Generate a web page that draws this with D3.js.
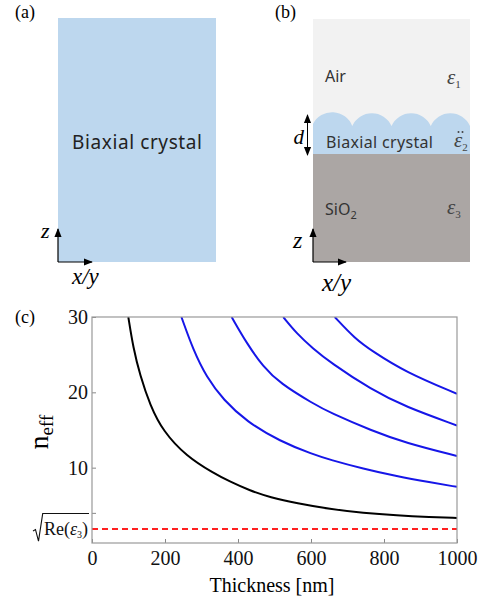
<!DOCTYPE html>
<html>
<head>
<meta charset="utf-8">
<script src="https://cdn.jsdelivr.net/npm/d3@7"></script>
<style>
  body { margin: 0; background: #fff; }
  svg { display: block; }
</style>
</head>
<body>
<svg id="fig" width="485" height="604"></svg>
<script>
// ---- data ----
var xTickValues = [0, 200, 400, 600, 800, 1000];
var yTickValues = [4, 10, 20, 30];
var yTickLabels = ["", "10", "20", "30"];
var substrateLine = 1.85; // sqrt(Re(eps3))

// [thickness nm, n_eff]
var mode0 = [[99.5, 30], [113, 25.9], [131.5, 22.3], [159, 18.3], [195, 14.8], [259, 11.5], [332, 9.3],
  [378, 8.14], [433, 6.95], [488, 6.07], [561, 5.27], [652, 4.5], [743, 4.0], [835, 3.67], [926, 3.45], [1000, 3.32]];
var mode1 = [[245, 30], [277.5, 25.6], [314, 22.0], [360, 19.0], [424, 16.1], [515, 13.5], [606, 11.75],
  [652, 11.05], [743, 9.85], [835, 8.85], [926, 8.05], [1000, 7.45]];
var mode2 = [[382.6, 30], [424, 26.5], [469, 23.4], [515, 21.2], [606, 18.5], [652, 17.3], [767, 14.9],
  [858, 13.3], [1000, 11.55]];
var mode3 = [[524, 30], [561, 27.8], [606, 25.8], [652, 24.0], [767, 20.3], [858, 18.1], [1000, 15.6]];
var mode4 = [[665, 30], [721, 27.1], [767, 25.5], [858, 22.7], [1000, 19.8]];

var blueModes = [mode1, mode2, mode3, mode4];

var svg = d3.select("#fig");
var serif = "'Liberation Serif', 'Times New Roman', serif";
var sans = "'Noto Sans', 'Open Sans', sans-serif";

var defs = svg.append("defs");
defs.append("marker")
  .attr("id", "head")
  .attr("viewBox", "0 0 10 10")
  .attr("refX", 9).attr("refY", 5)
  .attr("markerWidth", 9).attr("markerHeight", 9)
  .attr("markerUnits", "userSpaceOnUse")
  .attr("orient", "auto-start-reverse")
  .append("path")
  .attr("d", "M0,1 L10,5 L0,9 Z")
  .attr("fill", "#000");

// panel labels
[["(a)", 15, 18], ["(b)", 275, 18], ["(c)", 15, 323]].forEach(function (l) {
  svg.append("text").attr("x", l[1]).attr("y", l[2])
    .style("font-family", serif).style("font-size", "18px").text(l[0]);
});

function axesArrows(x0, y0, up, right) {
  svg.append("line").attr("x1", x0).attr("y1", y0).attr("x2", x0).attr("y2", y0 - up)
    .attr("stroke", "#000").attr("stroke-width", 1.2).attr("marker-end", "url(#head)");
  svg.append("line").attr("x1", x0).attr("y1", y0).attr("x2", x0 + right).attr("y2", y0)
    .attr("stroke", "#000").attr("stroke-width", 1.2).attr("marker-end", "url(#head)");
}

// ---- panel (a) ----
svg.append("rect").attr("x", 58).attr("y", 18).attr("width", 158).attr("height", 244).attr("fill", "#bdd7ee");
svg.append("text").attr("x", 72).attr("y", 149).attr("textLength", 130)
  .style("font-family", sans).style("font-size", "19px").style("fill", "#222").text("Biaxial crystal");
axesArrows(58, 262, 33, 34);
svg.append("text").attr("x", 41).attr("y", 238)
  .style("font-family", serif).style("font-style", "italic").style("font-size", "22px").text("z");
svg.append("text").attr("x", 72).attr("y", 284)
  .style("font-family", serif).style("font-style", "italic").style("font-size", "23px").text("x/y");

// ---- panel (b) ----
var bx = 313, bw = 157;
svg.append("rect").attr("x", bx).attr("y", 19).attr("width", bw).attr("height", 243).attr("fill", "#f2f2f2");
var bump = bw / 4, bumpPath = "M" + bx + ",154 L" + bx + ",124";
for (var i = 0; i < 4; i++) {
  bumpPath += " A21.5,21.5 0 0 1 " + (bx + (i + 1) * bump) + ",126";
}
bumpPath += " L" + (bx + bw) + ",154 Z";
svg.append("path").attr("d", bumpPath).attr("fill", "#bdd7ee");
svg.append("rect").attr("x", bx).attr("y", 154).attr("width", bw).attr("height", 108).attr("fill", "#aba6a4");

svg.append("text").attr("x", 325).attr("y", 82)
  .style("font-family", sans).style("font-size", "16px").style("fill", "#333").text("Air");
svg.append("text").attr("x", 326).attr("y", 148).attr("textLength", 107)
  .style("font-family", sans).style("font-size", "16px").style("fill", "#333").text("Biaxial crystal");
var sio = svg.append("text").attr("x", 325).attr("y", 215)
  .style("font-family", sans).style("font-size", "16px").style("fill", "#333");
sio.append("tspan").text("SiO");
sio.append("tspan").attr("dy", 4).style("font-size", "11px").text("2");

function epsLabel(x, y, sub, tensor) {
  var t = svg.append("text").attr("x", x).attr("y", y)
    .style("font-family", serif).style("font-size", "21px").style("fill", "#444");
  t.append("tspan").style("font-style", "italic").text("\u03b5");
  t.append("tspan").attr("dy", 4).style("font-size", "11px").text(sub);
  if (tensor) {
    // double-dot (tensor) accent
    svg.append("circle").attr("cx", x + 4.5).attr("cy", y - 15).attr("r", 1).attr("fill", "#444");
    svg.append("circle").attr("cx", x + 8.5).attr("cy", y - 15).attr("r", 1).attr("fill", "#444");
  }
}
epsLabel(447, 84, "1", false);
epsLabel(454, 147, "2", true);
epsLabel(447, 214, "3", false);

// thickness arrow d
svg.append("line").attr("x1", 307.5).attr("y1", 134).attr("x2", 307.5).attr("y2", 115)
  .attr("stroke", "#000").attr("stroke-width", 1).attr("marker-end", "url(#head)");
svg.append("line").attr("x1", 307.5).attr("y1", 134).attr("x2", 307.5).attr("y2", 155)
  .attr("stroke", "#000").attr("stroke-width", 1).attr("marker-end", "url(#head)");
svg.append("text").attr("x", 304).attr("y", 144).attr("text-anchor", "end")
  .style("font-family", serif).style("font-style", "italic").style("font-size", "21px").text("d");

axesArrows(bx, 262, 33, 33);
svg.append("text").attr("x", 293).attr("y", 248)
  .style("font-family", serif).style("font-style", "italic").style("font-size", "24px").text("z");
svg.append("text").attr("x", 322).attr("y", 291)
  .style("font-family", serif).style("font-style", "italic").style("font-size", "25px").text("x/y");

// ---- panel (c) ----
var xScale = d3.scaleLinear().domain([0, 1000]).range([92, 457]);
var yScale = d3.scaleLinear().domain([0, 30]).range([543, 317]);

defs.append("clipPath").attr("id", "plotclip")
  .append("rect").attr("x", 92).attr("y", 317).attr("width", 365).attr("height", 226);

var xAxis = svg.append("g")
  .attr("transform", "translate(0,543)")
  .call(d3.axisBottom(xScale).tickValues(xTickValues).tickSizeInner(-4).tickSizeOuter(0).tickPadding(8)
    .tickFormat(d3.format("d")));
var yAxis = svg.append("g")
  .attr("transform", "translate(92,0)")
  .call(d3.axisLeft(yScale).tickValues(yTickValues).tickSizeInner(-4).tickSizeOuter(0).tickPadding(4)
    .tickFormat(function (d, i) { return yTickLabels[i]; }));
[xAxis, yAxis].forEach(function (a) {
  a.select(".domain").remove();
  a.selectAll("line").attr("stroke", "#888");
  a.selectAll("text").style("font-family", serif).style("font-size", "20px").style("fill", "#111");
});

var line = d3.line()
  .x(function (d) { return xScale(d[0]); })
  .y(function (d) { return yScale(d[1]); })
  .curve(d3.curveBasis);

var plot = svg.append("g").attr("clip-path", "url(#plotclip)");
plot.append("line")
  .attr("x1", xScale(0)).attr("x2", xScale(1000))
  .attr("y1", yScale(substrateLine)).attr("y2", yScale(substrateLine))
  .attr("stroke", "#ff2020").attr("stroke-width", 2).attr("stroke-dasharray", "6,4");
plot.selectAll(".blue")
  .data(blueModes)
  .enter()
  .append("path")
  .attr("d", line)
  .attr("fill", "none").attr("stroke", "#1616e8").attr("stroke-width", 2);
plot.append("path")
  .attr("d", line(mode0))
  .attr("fill", "none").attr("stroke", "#000").attr("stroke-width", 2);

svg.append("rect").attr("x", 92).attr("y", 317).attr("width", 365).attr("height", 226)
  .attr("fill", "none").attr("stroke", "#999").attr("stroke-width", 1.2);

// y label n_eff
var yl = svg.append("text")
  .attr("transform", "translate(48,432)rotate(-90)")
  .attr("text-anchor", "middle")
  .style("font-family", serif).style("font-size", "28px");
yl.append("tspan").text("n");
yl.append("tspan").attr("dy", 5).style("font-size", "19px").text("eff");

svg.append("text").attr("x", 272).attr("y", 592).attr("text-anchor", "middle")
  .style("font-family", serif).style("font-size", "20px").text("Thickness [nm]");

// sqrt(Re(eps3)) label
var ry = yScale(substrateLine);
svg.append("path")
  .attr("d", "M33," + (ry + 2) + " L35.5," + (ry + 0.5) + " L38.5," + (ry + 12) + " L42.7," + (ry - 15.5) + " L89," + (ry - 15.5))
  .attr("fill", "none").attr("stroke", "#111").attr("stroke-width", 1.1);
var rl = svg.append("text").attr("x", 44).attr("y", ry + 6)
  .style("font-family", serif).style("font-size", "18px").style("fill", "#111");
rl.append("tspan").text("Re(");
rl.append("tspan").style("font-style", "italic").text("\u03b5");
rl.append("tspan").attr("dy", 3).style("font-size", "10px").text("3");
rl.append("tspan").attr("dy", -3).text(")");
</script>
</body>
</html>
